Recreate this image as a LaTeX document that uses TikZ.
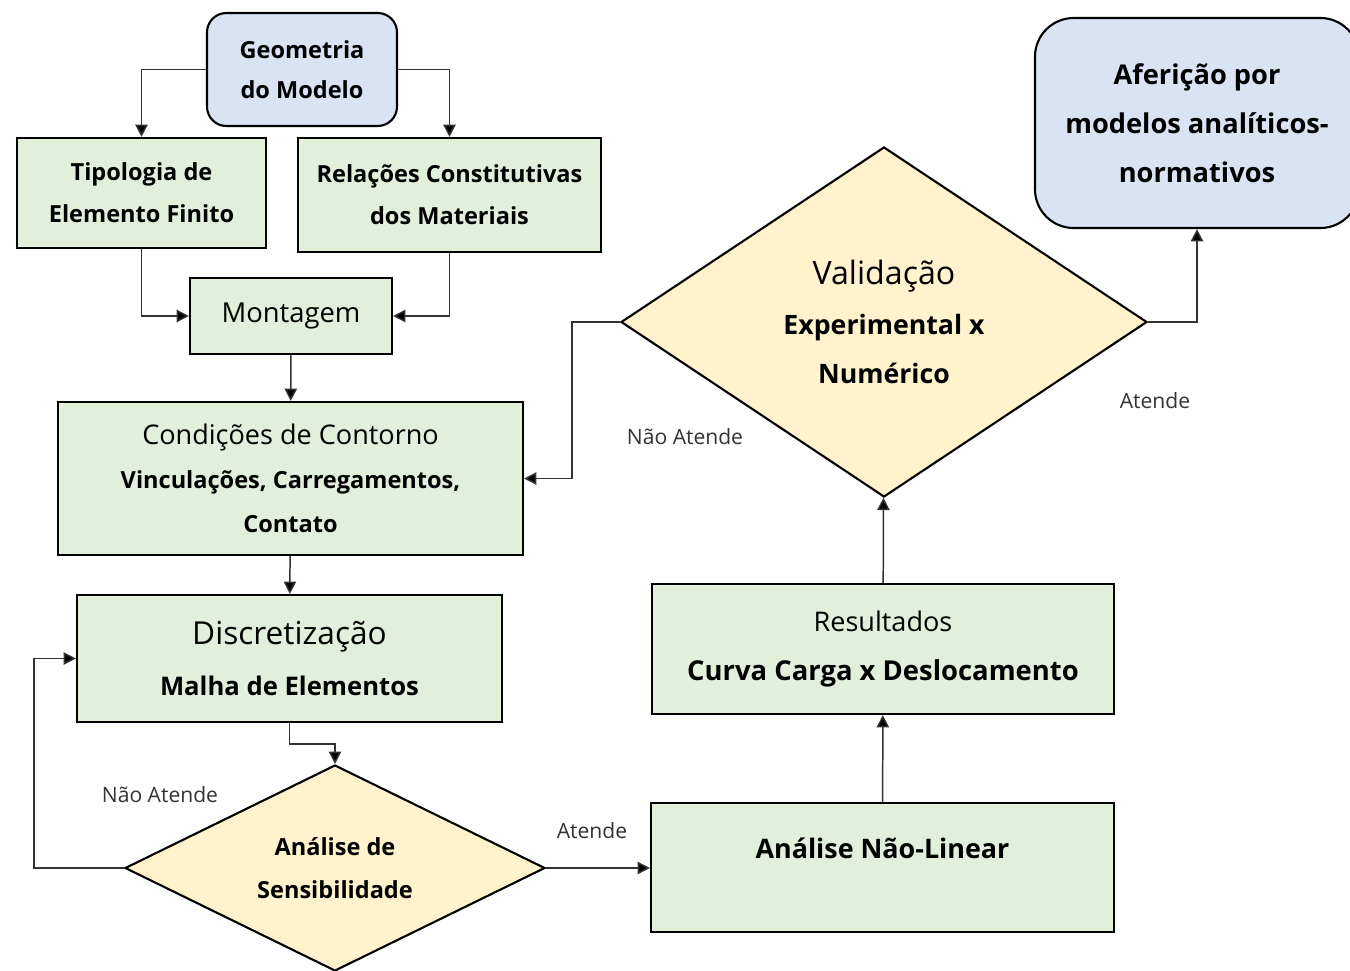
\documentclass[tikz,border=0pt]{standalone}
\usepackage{fontspec}
\setmainfont{Open Sans}
\usetikzlibrary{shapes.geometric,arrows.meta}
\definecolor{boxgreen}{HTML}{E2EFDA}
\definecolor{decyellow}{HTML}{FFF2CC}
\definecolor{startblue}{HTML}{DAE3F3}
\definecolor{linegray}{HTML}{333333}
\definecolor{labelgray}{HTML}{333333}

\begin{document}
\begin{tikzpicture}[x=0.02cm, y=-0.02cm,
    every node/.style={align=center, inner sep=0pt},
    proc/.style={draw=black, line width=1.2pt, fill=boxgreen},
    inicio/.style={draw=black, line width=1.2pt, fill=startblue, rounded corners=11pt},
    decisao/.style={diamond, draw=black, line width=1.2pt, fill=decyellow},
    fluxo/.style={draw=linegray, line width=0.85pt, -{Triangle[length=7pt,width=7pt,fill=black]}},
    rotulo/.style={text=labelgray, font=\fontsize{12}{14}\selectfont}]
    \def\px{0.02cm}
    \useasboundingbox (0,0) rectangle (1350,971);
    \node[inicio, minimum width=190*\px, minimum height=113*\px, font=\fontsize{13.4}{23}\selectfont\bfseries] (geo) at (302,69.5) {Geometria\\do Modelo};
    \node[proc, minimum width=249*\px, minimum height=110*\px, font=\fontsize{13.4}{24}\selectfont\bfseries] (tipo) at (141.5,193) {Tipologia de\\Elemento Finito};
    \node[proc, minimum width=303*\px, minimum height=114*\px, font=\fontsize{13.4}{24}\selectfont\bfseries] (rel) at (449.5,195) {Relações Constitutivas\\dos Materiais};
    \node[proc, minimum width=202*\px, minimum height=76*\px, font=\fontsize{15.6}{18}\selectfont] (mont) at (291,316) {Montagem};
    \node[proc, minimum width=465*\px, minimum height=153*\px, font=\fontsize{13.4}{25}\selectfont\bfseries] (cond) at (290.5,478.5)
        {{\mdseries\fontsize{15.4}{25}\selectfont Condições de Contorno}\\Vinculações, Carregamentos,\\Contato};
    \node[proc, minimum width=425*\px, minimum height=127*\px, font=\fontsize{14.6}{29.5}\selectfont\bfseries] (disc) at (289.5,658.5)
        {{\mdseries\fontsize{18}{29.5}\selectfont Discretização}\\Malha de Elementos};
    \node[decisao, aspect=2, minimum width=420*\px, minimum height=206*\px, font=\fontsize{13.4}{24}\selectfont\bfseries] (sens) at (335,868) {Análise de\\Sensibilidade};
    \node[proc, minimum width=463*\px, minimum height=129*\px, font=\fontsize{15.3}{22.5}\selectfont\bfseries] (nl) at (882.5,867.5) {Análise Não-Linear\\\mbox{}};
    \node[proc, minimum width=462*\px, minimum height=130*\px, font=\fontsize{15.6}{27.8}\selectfont\bfseries] (res) at (883,649)
        {{\mdseries\fontsize{15.4}{27.8}\selectfont Resultados}\\Curva Carga x Deslocamento};
    \node[decisao, aspect=1.5, minimum width=526*\px, minimum height=350*\px, font=\fontsize{15.2}{28}\selectfont\bfseries] (val) at (884,322)
        {{\mdseries\fontsize{18.3}{28}\selectfont Validação}\\Experimental x\\Numérico};
    \node[inicio, rounded corners=22pt, minimum width=324*\px, minimum height=210*\px, font=\fontsize{15.5}{28}\selectfont\bfseries] (afer) at (1197,123)
        {Aferição por\\modelos analíticos-\\normativos};
    \node[rotulo] (naoval) at (685,437) {Não Atende};
    \node[rotulo] (simval) at (1155,401) {Atende};
    \node[rotulo] (naosens) at (160,795) {Não Atende};
    \node[rotulo] (simsens) at (592,831) {Atende};
    \draw[fluxo] (geo.west) -| (tipo.north);
    \draw[fluxo] (geo.east) -| (rel.north);
    \draw[fluxo] (tipo.south) |- (mont.west);
    \draw[fluxo] (rel.south) |- (mont.east);
    \draw[fluxo] (mont) -- (cond);
    \draw[fluxo] (cond) -- (disc);
    \draw[fluxo] (disc.south) -- ++(0,21) -| (sens.north);
    \draw[fluxo] (sens.west) -- ++(-90,0) |- (disc.west);
    \draw[fluxo] (sens.east) -- (sens.east -| nl.west);
    \draw[fluxo] (nl) -- (res);
    \draw[fluxo] (res) -- (val);
    \draw[fluxo] (val.west) -- ++(-48,0) |- (cond.east);
    \draw[fluxo] (val.east) -| (afer.south);
\end{tikzpicture}
\end{document}
